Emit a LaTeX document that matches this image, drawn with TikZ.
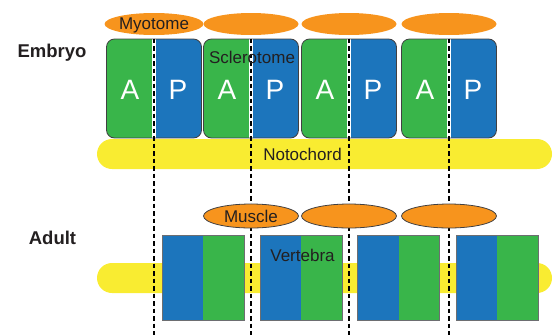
\documentclass[tikz,border=0pt]{standalone}
\usepackage{fontspec}
\setmainfont{Liberation Sans}
\usetikzlibrary{shapes.geometric}
\definecolor{somgreen}{HTML}{39B54A}
\definecolor{somblue}{HTML}{1C75BC}
\definecolor{somorange}{HTML}{F7941D}
\definecolor{somyellow}{HTML}{F9EC31}
\definecolor{inkgray}{HTML}{231F20}
\definecolor{edgegray}{HTML}{414042}
\definecolor{boxgray}{HTML}{6D6E71}
\tikzset{
        every node/.style={font=\fontsize{17}{20}\selectfont, text=inkgray},
        somite/.style={draw=edgegray, line width=0.8pt, rounded corners=8pt, minimum width=95pt, minimum height=99pt, inner sep=0pt,
          path picture={\fill[somgreen, sharp corners] (path picture bounding box.south west) rectangle ([xshift=-2pt]path picture bounding box.north);
                        \fill[somblue, sharp corners] ([xshift=2pt]path picture bounding box.south) rectangle (path picture bounding box.north east);}},
        vertebra/.style={draw=boxgray, line width=0.8pt, minimum width=82pt, minimum height=85pt, inner sep=0pt,
          path picture={\fill[somblue] (path picture bounding box.south west) rectangle (path picture bounding box.north);
                        \fill[somgreen] (path picture bounding box.south) rectangle (path picture bounding box.north east);}},
        myotome/.style={ellipse, fill=somorange, minimum width=95pt, minimum height=22pt, inner sep=0pt, text depth=0pt},
        muscle/.style={myotome, draw=edgegray, line width=0.8pt, minimum height=24pt},
        cord/.style={fill=somyellow, rounded corners=15pt, minimum width=455pt, minimum height=30pt, inner sep=0pt},
        letter/.style={text=white, font=\fontsize{28}{30}\selectfont, anchor=base},
        stage/.style={font=\bfseries\fontsize{18.5}{20}\selectfont, anchor=base},
        tag/.style={anchor=base},
        cut/.style={draw=black, line width=1.6pt, dash pattern=on 4.5pt off 3pt}
          }
\begin{document}
\begin{tikzpicture}[x=1pt, y=-1pt]
            \useasboundingbox (0,0) rectangle (553,335);
            \node[cord] (noto) at (324.5,154) {};
            \node[cord] (adultcord) at (324.5,278) {};
            \node[somite] (seg1) at (154,88.5) {};
            \node[somite] (seg2) at (251,88.5) {};
            \node[somite] (seg3) at (349,88.5) {};
            \node[somite] (seg4) at (449,88.5) {};
            \node[vertebra] (vert1) at (203,277.5) {};
            \node[vertebra] (vert2) at (301,277.5) {};
            \node[vertebra] (vert3) at (398.5,277.5) {};
            \node[vertebra] (vert4) at (497,277.5) {};
            \coordinate (end1) at (154,335);
            \coordinate (end2) at (251,335);
            \coordinate (end3) at (349,335);
            \coordinate (end4) at (449,335);
            \draw[cut] (seg1.north) -- (end1);
            \draw[cut] (seg2.north) -- (end2);
            \draw[cut] (seg3.north) -- (end3);
            \draw[cut] (seg4.north) -- (end4);
            \node[myotome] (myo1) at (154,24) {Myotome};
            \node[myotome] (myo2) at (251,24) {};
            \node[myotome] (myo3) at (349,24) {};
            \node[myotome] (myo4) at (449,24) {};
            \node[muscle] (mus1) at (251,216) {Muscle};
            \node[muscle] (mus2) at (349,216) {};
            \node[muscle] (mus3) at (449,216) {};
            \node[letter] (a1) at (130,99) {A};
            \node[letter] (p1) at (178,99) {P};
            \node[letter] (a2) at (227,99) {A};
            \node[letter] (p2) at (275,99) {P};
            \node[letter] (a3) at (325,99) {A};
            \node[letter] (p3) at (373,99) {P};
            \node[letter] (a4) at (425,99) {A};
            \node[letter] (p4) at (473,99) {P};
            \node[stage] (embryo) at (52,57.5) {Embryo};
            \node[stage] (adult) at (52.5,244) {Adult};
            \node[tag] (sclero) at (252,63) {Sclerotome};
            \node[tag] (notolbl) at (302.5,160) {Notochord};
            \node[tag] (vertlbl) at (302.5,261.5) {Vertebra};
          \end{tikzpicture}
\end{document}
